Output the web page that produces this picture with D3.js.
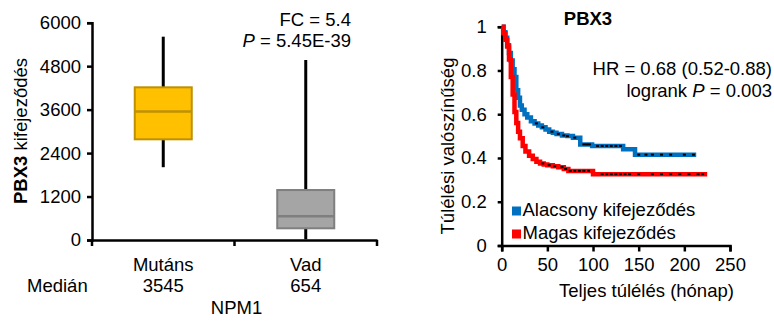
<!DOCTYPE html>
<html>
<head>
<meta charset="utf-8">
<script src="https://cdn.jsdelivr.net/npm/d3@7"></script>
<style>
  body { margin: 0; background: #fff; }
  svg text { font-family: "Liberation Sans", Arial, sans-serif; fill: #000; }
</style>
</head>
<body>
<svg id="chart" width="774" height="323"></svg>
<script>
// box plot data (PBX3 expression by NPM1 status)
const groups = ["Mutáns", "Vad"];
const medianLabels = ["3545", "654"];
const whiskerLow = [2010, 20];
const q1 = [2780, 323];
const median = [3545, 654];
const q3 = [4216, 1380];
const whiskerHigh = [5614, 4970];
const boxFill = ["#FFC000", "#A5A5A5"];
const boxStroke = ["#BF9000", "#7F7F7F"];
const leftTicks = [0, 1200, 2400, 3600, 4800, 6000];

// Kaplan-Meier curves
const lowTime = [0, 2, 4, 6, 8, 10, 12, 14, 16, 18, 20, 22, 25, 28, 32, 36, 40, 44, 48, 52, 56, 60, 66, 72, 78, 86, 99, 133, 146, 213];
const lowSurv = [1, 0.975, 0.95, 0.915, 0.88, 0.845, 0.805, 0.77, 0.71, 0.675, 0.64, 0.62, 0.60, 0.585, 0.568, 0.558, 0.548, 0.54, 0.53, 0.52, 0.515, 0.51, 0.503, 0.50, 0.493, 0.462, 0.455, 0.44, 0.415, 0.415];
const highTime = [0, 2, 4, 6, 8, 10, 12, 14, 16, 18, 20, 23, 26, 30, 34, 38, 42, 46, 50, 56, 62, 68, 73, 100, 225];
const highSurv = [1, 0.97, 0.94, 0.91, 0.85, 0.77, 0.69, 0.61, 0.56, 0.52, 0.49, 0.455, 0.43, 0.41, 0.395, 0.383, 0.375, 0.37, 0.367, 0.362, 0.358, 0.35, 0.341, 0.326, 0.326];
const lowCensor = [38, 45, 55, 62, 68, 72, 80, 90, 93, 96, 105, 110, 115, 120, 125, 130, 150, 158, 165, 175, 185, 200, 210];
const highCensor = [45, 52, 58, 66, 70, 75, 80, 85, 90, 95, 110, 115, 120, 125, 130, 135, 140, 150, 165, 175, 185, 195, 205, 215, 220];
const kmXTicks = [0, 50, 100, 150, 200, 250];
const kmYTicks = [0, 0.2, 0.4, 0.6, 0.8, 1];

const svg = d3.select("#chart");
const fs = "18.5px";

// ---------- left: box plot ----------
const x = d3.scaleBand().domain(groups).range([92, 377]);
const y = d3.scaleLinear().domain([0, 6000]).range([240, 22.7]);

const yAxL = svg.append("g")
  .attr("transform", "translate(92,0)")
  .call(d3.axisLeft(y).tickValues(leftTicks).tickSize(5).tickPadding(6).tickFormat(d3.format("d")));
yAxL.selectAll("text").style("font-size", fs);

const xAxL = svg.append("g")
  .attr("transform", "translate(0,240)")
  .call(d3.axisBottom(x).tickSize(0).tickFormat(""));
xAxL.selectAll(".tick").remove();
// boundary ticks between the groups
svg.append("g").selectAll("line")
  .data([x("Mutáns"), x("Vad"), x("Vad") + x.bandwidth()])
  .enter().append("line")
  .attr("x1", d => d).attr("x2", d => d)
  .attr("y1", 240).attr("y2", 246)
  .attr("stroke", "#000").attr("stroke-width", 2.5);

[yAxL, xAxL].forEach(g => {
  g.select(".domain").attr("stroke-width", 2.5);
  g.selectAll(".tick line").attr("stroke-width", 2.5);
});

const bw = x.bandwidth() * 0.4;
const cx = d => x(d) + x.bandwidth() / 2;

// whiskers
groups.forEach((g, i) => {
  svg.append("line")
    .attr("x1", cx(g)).attr("x2", cx(g))
    .attr("y1", y(q3[i])).attr("y2", y(whiskerHigh[i]))
    .attr("stroke", "#000").attr("stroke-width", 3);
  svg.append("line")
    .attr("x1", cx(g)).attr("x2", cx(g))
    .attr("y1", y(q1[i])).attr("y2", y(whiskerLow[i]))
    .attr("stroke", "#000").attr("stroke-width", 3);
});

svg.selectAll("rect.box")
  .data(groups)
  .enter().append("rect")
  .attr("class", "box")
  .attr("x", d => cx(d) - bw / 2)
  .attr("y", (d, i) => y(q3[i]))
  .attr("width", bw)
  .attr("height", (d, i) => y(q1[i]) - y(q3[i]))
  .attr("fill", (d, i) => boxFill[i])
  .attr("stroke", (d, i) => boxStroke[i])
  .attr("stroke-width", 2);

svg.selectAll("line.med")
  .data(groups)
  .enter().append("line")
  .attr("x1", d => cx(d) - bw / 2)
  .attr("x2", d => cx(d) + bw / 2)
  .attr("y1", (d, i) => y(median[i]))
  .attr("y2", (d, i) => y(median[i]))
  .attr("stroke", (d, i) => boxStroke[i])
  .attr("stroke-width", 2.5);

// category labels + medians
groups.forEach((g, i) => {
  svg.append("text").attr("x", cx(g)).attr("y", 271)
    .attr("text-anchor", "middle").style("font-size", fs).text(g);
  svg.append("text").attr("x", cx(g)).attr("y", 292)
    .attr("text-anchor", "middle").style("font-size", fs).text(medianLabels[i]);
});
svg.append("text").attr("x", 27).attr("y", 292).style("font-size", fs).text("Medián");
svg.append("text").attr("x", 236.5).attr("y", 314)
  .attr("text-anchor", "middle").style("font-size", fs).text("NPM1");

// y title
const yt = svg.append("text")
  .attr("transform", "translate(27,131) rotate(-90)")
  .attr("text-anchor", "middle").style("font-size", fs);
yt.append("tspan").style("font-weight", "bold").text("PBX3");
yt.append("tspan").text(" kifejeződés");

svg.append("text").attr("x", 351).attr("y", 25.5)
  .attr("text-anchor", "end").style("font-size", fs).text("FC = 5.4");
const pt = svg.append("text").attr("x", 351).attr("y", 46.5)
  .attr("text-anchor", "end").style("font-size", fs);
pt.append("tspan").style("font-style", "italic").text("P");
pt.append("tspan").text(" = 5.45E-39");

// ---------- right: Kaplan-Meier ----------
const kx = d3.scaleLinear().domain([0, 250]).range([501.7, 730]);
const ky = d3.scaleLinear().domain([0, 1]).range([245.5, 26.7]);

const kyAx = svg.append("g")
  .attr("transform", "translate(501.7,0)")
  .call(d3.axisLeft(ky).tickValues(kmYTicks).tickSize(4).tickPadding(11)
    .tickFormat(d => d === 0 || d === 1 ? d3.format("d")(d) : d3.format(".1f")(d)));
const kxAx = svg.append("g")
  .attr("transform", "translate(0,245.5)")
  .call(d3.axisBottom(kx).tickValues(kmXTicks).tickSize(6).tickPadding(6));
[kyAx, kxAx].forEach(g => {
  g.select(".domain").attr("stroke-width", 2.5);
  g.selectAll(".tick line").attr("stroke-width", 2.5);
  g.selectAll("text").style("font-size", fs);
});

const line = d3.line()
  .x(d => kx(d[0]))
  .y(d => ky(d[1]))
  .curve(d3.curveStepAfter);

const lowPts = d3.zip(lowTime, lowSurv);
const highPts = d3.zip(highTime, highSurv);

svg.append("path").datum(lowPts).attr("d", line)
  .attr("fill", "none").attr("stroke", "#0070C0").attr("stroke-width", 4.5);
svg.append("path").datum(highPts).attr("d", line)
  .attr("fill", "none").attr("stroke", "#FF0000").attr("stroke-width", 4.5);

// censor marks
const survAt = (times, surv, t) => surv[Math.max(0, d3.bisectRight(times, t) - 1)];
svg.selectAll("rect.cl").data(lowCensor).enter().append("rect")
  .attr("x", d => kx(d) - 1.5).attr("y", d => ky(survAt(lowTime, lowSurv, d)) - 1)
  .attr("width", 3).attr("height", 2).attr("fill", "#000");
svg.selectAll("rect.ch").data(highCensor).enter().append("rect")
  .attr("x", d => kx(d) - 1.5).attr("y", d => ky(survAt(highTime, highSurv, d)) - 1)
  .attr("width", 3).attr("height", 2).attr("fill", "#000");

svg.append("text").attr("x", 588).attr("y", 25)
  .attr("text-anchor", "middle").style("font-size", fs).style("font-weight", "bold").text("PBX3");

svg.append("text").attr("x", 772).attr("y", 75)
  .attr("text-anchor", "end").style("font-size", fs).text("HR = 0.68 (0.52-0.88)");
const lr = svg.append("text").attr("x", 772).attr("y", 96.5)
  .attr("text-anchor", "end").style("font-size", fs);
lr.append("tspan").text("logrank ");
lr.append("tspan").style("font-style", "italic").text("P");
lr.append("tspan").text(" = 0.003");

svg.append("text")
  .attr("transform", "translate(454,146) rotate(-90)")
  .attr("text-anchor", "middle").style("font-size", fs).text("Túlélési valószínűség");
svg.append("text").attr("x", 646.5).attr("y", 297)
  .attr("text-anchor", "middle").style("font-size", fs).text("Teljes túlélés (hónap)");

// legend
const legend = [["Alacsony kifejeződés", "#0070C0", 216], ["Magas kifejeződés", "#FF0000", 239]];
legend.forEach(([label, col, by]) => {
  svg.append("rect").attr("x", 512).attr("y", by - 9.5).attr("width", 9).attr("height", 9).attr("fill", col);
  svg.append("text").attr("x", 522.5).attr("y", by).style("font-size", fs).text(label);
});
</script>
</body>
</html>
